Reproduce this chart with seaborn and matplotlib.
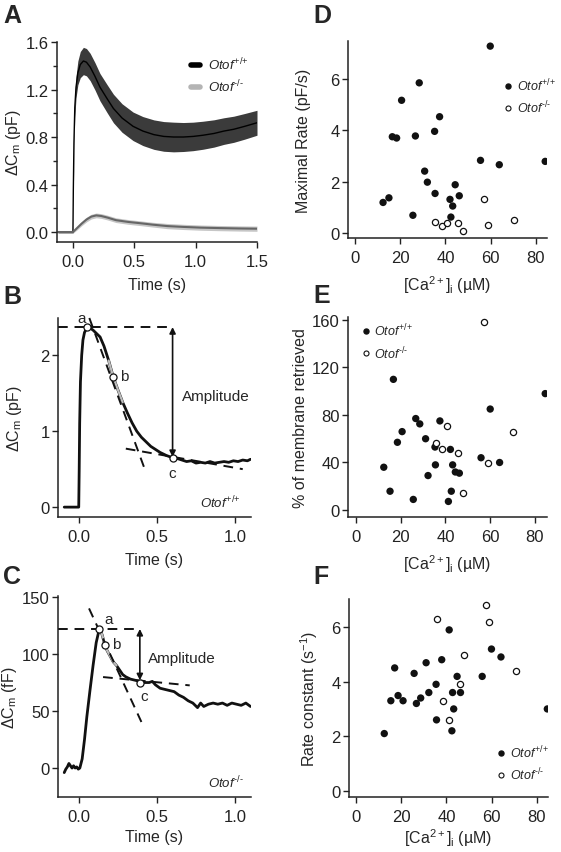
import numpy as np
import pandas as pd
import matplotlib
matplotlib.use("Agg")
import matplotlib.pyplot as plt
from matplotlib.lines import Line2D
from matplotlib.ticker import MultipleLocator, FormatStrFormatter
import seaborn as sns

# ---- data ----

# A: mean +/- SEM of capacitance change (pF)
a_t_wt = [-0.12, -0.05, 0.0, 0.003, 0.008, 0.015, 0.025, 0.04, 0.06, 0.085, 0.11, 0.14, 0.18, 0.22, 0.28,
          0.33, 0.40, 0.49, 0.57, 0.66, 0.74, 0.82, 0.90, 0.98, 1.06, 1.15, 1.23, 1.31, 1.40, 1.50]
a_wt_mean = [0.0, 0.0, 0.0, 0.35, 0.75, 1.05, 1.22, 1.34, 1.41, 1.44, 1.43, 1.39, 1.31, 1.22, 1.12,
             1.04, 0.96, 0.89, 0.85, 0.82, 0.805, 0.80, 0.80, 0.805, 0.815, 0.83, 0.85, 0.865, 0.89, 0.92]
a_wt_sem = [0.01, 0.01, 0.01, 0.03, 0.06, 0.08, 0.09, 0.10, 0.11, 0.115, 0.115, 0.115, 0.115, 0.115, 0.118,
            0.12, 0.12, 0.12, 0.122, 0.124, 0.125, 0.125, 0.122, 0.12, 0.118, 0.115, 0.112, 0.11, 0.108, 0.105]
a_t_ko = [-0.12, -0.05, 0.0, 0.03, 0.07, 0.11, 0.15, 0.19, 0.23, 0.28, 0.35, 0.45, 0.55, 0.65, 0.77,
          0.90, 1.04, 1.20, 1.35, 1.50]
a_ko_mean = [0.0, 0.0, 0.0, 0.03, 0.07, 0.105, 0.13, 0.14, 0.135, 0.122, 0.10, 0.085, 0.074, 0.062, 0.05,
             0.043, 0.037, 0.033, 0.03, 0.028]
a_ko_sem = [0.01, 0.01, 0.01, 0.015, 0.018, 0.02, 0.02, 0.02, 0.02, 0.02, 0.02, 0.02, 0.02, 0.02, 0.022,
            0.022, 0.022, 0.022, 0.022, 0.022]

# B: example Otof+/+ trace (pF)
b_t = [-0.095, -0.07, -0.045, -0.02, -0.002, 0.001, 0.004, 0.009, 0.017, 0.025, 0.035, 0.053, 0.07, 0.09,
       0.11, 0.135, 0.16, 0.19, 0.22, 0.25, 0.28, 0.31, 0.34, 0.37, 0.40, 0.43, 0.46, 0.49, 0.52, 0.56,
       0.60, 0.63, 0.66, 0.69, 0.72, 0.75, 0.78, 0.81, 0.84, 0.87, 0.90, 0.93, 0.96, 0.99, 1.02, 1.05,
       1.08, 1.10]
b_dc = [0.0, 0.0, 0.0, 0.0, 0.0, 0.5, 1.1, 1.65, 2.0, 2.2, 2.3, 2.37, 2.36, 2.33,
        2.29, 2.24, 2.12, 1.93, 1.71, 1.54, 1.38, 1.24, 1.11, 1.00, 0.92, 0.86, 0.80, 0.76, 0.72, 0.68,
        0.65, 0.64, 0.62, 0.60, 0.61, 0.58, 0.59, 0.58, 0.60, 0.58, 0.59, 0.60, 0.59, 0.61, 0.60, 0.62,
        0.61, 0.63]
b_pts_t = [0.053, 0.22, 0.60]          # a, b, c
b_pts_y = [2.37, 1.71, 0.65]
b_hline = ([-0.135, 0.60], [2.37, 2.37])
b_steep = ([0.066, 0.417], [2.49, 0.525])
b_flat = ([0.30, 1.05], [0.77, 0.50])

# C: example Otof-/- trace (fF)
c_t = [-0.095, -0.085, -0.075, -0.065, -0.055, -0.045, -0.035, -0.025, -0.015, -0.005, 0.005, 0.02, 0.035,
       0.05, 0.07, 0.09, 0.11, 0.125, 0.135, 0.15, 0.165, 0.18, 0.20, 0.22, 0.24, 0.26, 0.28, 0.30, 0.33,
       0.36, 0.39, 0.42, 0.45, 0.47, 0.49, 0.52, 0.55, 0.58, 0.61, 0.64, 0.67, 0.70, 0.73, 0.76, 0.78,
       0.80, 0.83, 0.86, 0.89, 0.92, 0.95, 0.98, 1.01, 1.04, 1.07, 1.10]
c_dc = [-4, -1, 1, 4, 2, 0, 2, 0, 1, -1, 0, 8, 25,
        45, 68, 90, 110, 119, 122, 116, 108, 103, 98, 93, 90, 86, 82, 80, 78,
        77, 76, 75, 75, 76, 73, 70, 69, 68, 67, 64, 62, 59, 57, 53, 57,
        54, 56, 57, 56, 57, 55, 57, 56, 55, 57, 54]
c_pts_t = [0.13, 0.165, 0.39]
c_pts_y = [122, 108, 75]
c_hline = ([-0.135, 0.39], [122, 122])
c_steep = ([0.064, 0.40], [140, 40.4])
c_flat = ([0.154, 0.71], [79.8, 72.5])

# D: maximal rate (pF/s) vs [Ca2+]i (uM)
d_ca_wt = [12.4, 15.0, 16.5, 18.4, 20.6, 25.6, 26.7, 28.4, 30.8, 32.0, 35.2, 35.4, 37.4, 42.0, 42.4,
           43.2, 44.3, 46.1, 55.5, 59.8, 63.8, 84.1]
d_rate_wt = [1.19, 1.37, 3.75, 3.70, 5.17, 0.69, 3.78, 5.85, 2.41, 1.98, 3.96, 1.54, 4.53, 1.31, 0.62,
             1.05, 1.88, 1.45, 2.83, 7.28, 2.66, 2.79]
d_ca_ko = [35.5, 38.5, 40.8, 45.5, 47.6, 57.0, 58.6, 70.1]
d_rate_ko = [0.43, 0.27, 0.39, 0.39, 0.08, 1.32, 0.30, 0.52]

# E: % of membrane retrieved
e_ca_wt = [12.4, 15.2, 16.7, 18.5, 20.6, 25.6, 26.7, 28.5, 31.1, 32.2, 35.3, 35.5, 37.5, 42.2, 41.3,
           42.6, 43.2, 44.4, 46.2, 55.9, 60.0, 64.2, 84.6]
e_ret_wt = [36, 15.8, 110, 57, 66, 8.9, 77, 72.5, 60, 29, 53, 38, 75, 51, 7.2,
            15.8, 38, 32, 31, 44, 85, 40, 98]
e_ca_ko = [35.6, 38.6, 40.7, 45.7, 47.7, 57.1, 58.8, 70.3]
e_ret_ko = [56.7, 51.2, 70.9, 48.4, 14.7, 158, 39.3, 65.9]

# F: rate constant (1/s)
f_ca_wt = [12.5, 15.4, 17.1, 18.6, 20.8, 25.7, 26.7, 28.6, 31.0, 32.2, 35.4, 35.6, 37.9, 41.2, 42.4,
           42.7, 43.2, 44.7, 46.2, 55.8, 59.9, 64.1, 84.6]
f_k_wt = [2.10, 3.30, 4.50, 3.49, 3.30, 4.30, 3.20, 3.40, 4.69, 3.60, 3.90, 2.60, 4.80, 5.89, 2.20,
          3.60, 3.00, 4.19, 3.60, 4.19, 5.19, 4.90, 3.00]
f_ca_ko = [35.7, 38.5, 40.9, 45.8, 47.8, 57.4, 58.9, 70.6]
f_k_ko = [6.28, 3.30, 2.60, 3.90, 4.99, 6.79, 6.18, 4.40]

WT = r'$\mathit{Otof}^{\text{+/+}}$'
KO = r'$\mathit{Otof}^{\text{-/-}}$'
CA_LABEL = r'[Ca$^{2+}$]$_\mathrm{i}$ (µM)'

# ---- style ----
sns.set_style("ticks")
plt.rcParams['font.family'] = ['Liberation Sans', 'DejaVu Sans']
plt.rcParams['mathtext.fontset'] = 'custom'
plt.rcParams['mathtext.rm'] = 'Liberation Sans'
plt.rcParams['mathtext.it'] = 'Liberation Sans:italic'
plt.rcParams['mathtext.bf'] = 'Liberation Sans:bold'
plt.rcParams['axes.linewidth'] = 1.1
plt.rcParams['axes.edgecolor'] = '#222222'

W, H = 561, 853
fig = plt.figure(figsize=(W / 100, H / 100), dpi=100)

TICK_FS = 12
LAB_FS = 11.5


def px_axes(l, t, r, b):
    ax = fig.add_axes([l / W, 1 - b / H, (r - l) / W, (b - t) / H])
    sns.despine(ax=ax)
    ax.tick_params(direction='out', length=4, width=1, labelsize=TICK_FS, pad=2, colors='#222222')
    ax.tick_params(axis='x', pad=4.5)
    return ax


def letter(x, y, s):
    fig.text(x / W, 1 - y / H, s, fontsize=18, fontweight='bold', ha='left', va='center')


# ---- A ----
axA = px_axes(57, 43, 257, 243)
lo = np.array(a_wt_mean) - np.array(a_wt_sem)
hi = np.array(a_wt_mean) + np.array(a_wt_sem)
axA.fill_between(a_t_wt, lo, hi, color='#3b3b3b', lw=0)
sns.lineplot(x=a_t_wt, y=a_wt_mean, ax=axA, color='black', lw=1.0)
lo = np.array(a_ko_mean) - np.array(a_ko_sem)
hi = np.array(a_ko_mean) + np.array(a_ko_sem)
axA.fill_between(a_t_ko, lo, hi, color='#c6c6c6', lw=0)
sns.lineplot(x=a_t_ko, y=a_ko_mean, ax=axA, color='#666666', lw=1.5)
axA.set_xlim(-0.13, 1.5)
axA.set_ylim(-0.084, 1.6)
axA.set_xticks([0, 0.5, 1.0, 1.5])
axA.set_yticks([0, 0.4, 0.8, 1.2, 1.6])
axA.yaxis.set_minor_locator(MultipleLocator(0.2))
axA.tick_params(axis='y', which='minor', length=3, width=1)
axA.xaxis.set_major_formatter(FormatStrFormatter('%.1f'))
axA.yaxis.set_major_formatter(FormatStrFormatter('%.1f'))
axA.set_xlabel('Time (s)', fontsize=LAB_FS, labelpad=6)
axA.set_ylabel(r'$\Delta$C$_\mathrm{m}$ (pF)', fontsize=LAB_FS, labelpad=2)
hA = [Line2D([], [], color='black', lw=4), Line2D([], [], color='#b4b4b4', lw=4)]
axA.legend(hA, [WT, KO], loc='upper left', bbox_to_anchor=(0.67, 0.93), frameon=False,
           fontsize=9.5, handlelength=0.7, handletextpad=0.6, labelspacing=0.4,
           borderpad=0, borderaxespad=0)
letter(3, 16, 'A')


def trace_panel(ax, t, y, gray_lo, gray_hi, pts_t, pts_y, hline, steep, flat):
    sns.lineplot(x=t, y=y, ax=ax, color='#111111', lw=2.0)
    tt = np.array(t)
    m = (tt >= gray_lo) & (tt <= gray_hi)
    sns.lineplot(x=tt[m], y=np.array(y)[m], ax=ax, color='#bdbdbd', lw=1.6)
    for xs, ys in (hline, steep, flat):
        ax.plot(xs, ys, color='#111111', lw=1.4, dashes=(5, 3.5), clip_on=False)
    ax.scatter(pts_t, pts_y, s=26, facecolor='white', edgecolor='#111111', lw=0.9, zorder=5)


# ---- B ----
axB = px_axes(58, 319, 251, 518)
trace_panel(axB, b_t, b_dc, 0.18, 0.29, b_pts_t, b_pts_y, b_hline, b_steep, b_flat)
axB.annotate('', xy=(0.60, 2.37), xytext=(0.60, 0.66),
             arrowprops=dict(arrowstyle='<|-|>', color='#111111', lw=1.2,
                             mutation_scale=9, shrinkA=0, shrinkB=0))
axB.text(0.66, 1.46, 'Amplitude', fontsize=11, ha='left', va='center')
axB.text(0.015, 2.49, 'a', fontsize=11, ha='center', va='center')
axB.text(0.29, 1.72, 'b', fontsize=11, ha='center', va='center')
axB.text(0.60, 0.45, 'c', fontsize=11, ha='center', va='center')
axB.text(1.04, 0.07, WT, fontsize=9.5, ha='right', va='center')
axB.set_xlim(-0.135, 1.103)
axB.set_ylim(-0.13, 2.49)
axB.set_xticks([0, 0.5, 1.0])
axB.set_yticks([0, 1, 2])
axB.xaxis.set_major_formatter(FormatStrFormatter('%.1f'))
axB.set_xlabel('Time (s)', fontsize=LAB_FS, labelpad=6)
axB.set_ylabel(r'$\Delta$C$_\mathrm{m}$ (pF)', fontsize=LAB_FS, labelpad=12)
letter(3, 297, 'B')

# ---- C ----
axC = px_axes(58, 597, 251, 798)
trace_panel(axC, c_t, c_dc, 0.13, 0.25, c_pts_t, c_pts_y, c_hline, c_steep, c_flat)
axC.annotate('', xy=(0.39, 122), xytext=(0.39, 77),
             arrowprops=dict(arrowstyle='<|-|>', color='#111111', lw=1.2,
                             mutation_scale=9, shrinkA=0, shrinkB=0))
axC.text(0.44, 96.5, 'Amplitude', fontsize=11, ha='left', va='center')
axC.text(0.19, 131, 'a', fontsize=11, ha='center', va='center')
axC.text(0.24, 109, 'b', fontsize=11, ha='center', va='center')
axC.text(0.415, 63, 'c', fontsize=11, ha='center', va='center')
axC.text(1.06, -12, KO, fontsize=9.5, ha='right', va='center')
axC.set_xlim(-0.135, 1.103)
axC.set_ylim(-25.4, 150.9)
axC.set_xticks([0, 0.5, 1.0])
axC.set_yticks([0, 50, 100, 150])
axC.xaxis.set_major_formatter(FormatStrFormatter('%.1f'))
axC.set_xlabel('Time (s)', fontsize=LAB_FS, labelpad=4)
axC.set_ylabel(r'$\Delta$C$_\mathrm{m}$ (fF)', fontsize=LAB_FS, labelpad=2)
letter(3, 577, 'C')


def scatter_panel(ax, ca_wt, v_wt, ca_ko, v_ko, pad=6):
    sns.scatterplot(x=ca_wt, y=v_wt, ax=ax, s=28, color='#111111', edgecolor='none', zorder=3)
    sns.scatterplot(x=ca_ko, y=v_ko, ax=ax, s=20, facecolor='white', edgecolor='#111111',
                    linewidth=0.9, zorder=4)
    ax.set_xticks([0, 20, 40, 60, 80])
    ax.set_xlabel(CA_LABEL, fontsize=LAB_FS, labelpad=pad)


def scatter_legend(ax, x, y):
    h = [Line2D([], [], ls='', marker='o', ms=3.6, color='#111111'),
         Line2D([], [], ls='', marker='o', ms=3.6, mfc='white', mec='#111111', mew=0.8)]
    ax.legend(h, [WT, KO], loc='upper left', bbox_to_anchor=(x, y), frameon=False,
              fontsize=9, handlelength=0.6, handletextpad=0.4, labelspacing=0.45,
              borderpad=0, borderaxespad=0)


# ---- D ----
axD = px_axes(348, 42, 547, 239)
scatter_panel(axD, d_ca_wt, d_rate_wt, d_ca_ko, d_rate_ko)
axD.set_xlim(-3.1, 84.9)
axD.set_ylim(-0.195, 7.48)
axD.set_yticks([0, 2, 4, 6])
axD.set_ylabel('Maximal Rate (pF/s)', fontsize=LAB_FS, labelpad=14)
scatter_legend(axD, 0.785, 0.82)
letter(313, 16, 'D')

# ---- E ----
axE = px_axes(348, 318, 547, 518)
scatter_panel(axE, e_ca_wt, e_ret_wt, e_ca_ko, e_ret_ko)
axE.set_xlim(-3.6, 85.4)
axE.set_ylim(-5.9, 162.5)
axE.set_yticks([0, 40, 80, 120, 160])
axE.set_ylabel('% of membrane retrieved', fontsize=LAB_FS, labelpad=3)
scatter_legend(axE, 0.07, 0.975)
letter(313, 296, 'E')

# ---- F ----
axF = px_axes(349, 600, 548, 798)
scatter_panel(axF, f_ca_wt, f_k_wt, f_ca_ko, f_k_ko, pad=2)
axF.set_xlim(-3.1, 84.9)
axF.set_ylim(-0.22, 7.02)
axF.set_yticks([0, 2, 4, 6])
axF.set_ylabel(r'Rate constant (s$^{-1}$)', fontsize=LAB_FS, labelpad=8)
scatter_legend(axF, 0.745, 0.27)
letter(313, 577, 'F')

fig.savefig('out.png', dpi=100)
